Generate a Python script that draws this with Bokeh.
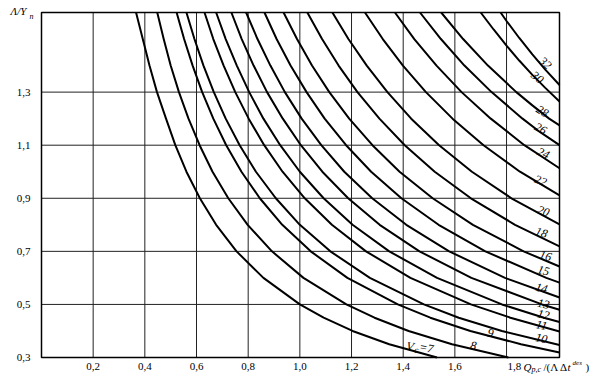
from bokeh.plotting import figure
from bokeh.models import Range1d, Label
from bokeh.embed import file_html
from bokeh.resources import INLINE
import math

# ---- data (points along each curve) ----
vc_values = [7, 8, 9, 10, 11, 12, 13, 14, 15, 16, 18, 20, 22, 24, 26, 28, 30, 32]

c7_x = [0.366, 0.392, 0.418, 0.447, 0.482, 0.518, 0.561, 0.613, 0.676, 0.755, 0.859, 1.000, 1.092, 1.204, 1.346, 1.531]
c7_y = [1.60, 1.50, 1.40, 1.30, 1.20, 1.10, 1.00, 0.90, 0.80, 0.70, 0.60, 0.50, 0.45, 0.40, 0.35, 0.30]
c8_x = [0.448, 0.473, 0.500, 0.532, 0.569, 0.612, 0.662, 0.723, 0.798, 0.892, 1.014, 1.180, 1.289, 1.421, 1.589, 1.807]
c8_y = [1.60, 1.50, 1.40, 1.30, 1.20, 1.10, 1.00, 0.90, 0.80, 0.70, 0.60, 0.50, 0.45, 0.40, 0.35, 0.30]
c9_x = [0.523, 0.552, 0.585, 0.622, 0.665, 0.715, 0.774, 0.845, 0.932, 1.042, 1.184, 1.379, 1.505, 1.660, 1.856, 2.005]
c9_y = [1.60, 1.50, 1.40, 1.30, 1.20, 1.10, 1.00, 0.90, 0.80, 0.70, 0.60, 0.50, 0.45, 0.40, 0.35, 0.319]
c10_x = [0.561, 0.592, 0.627, 0.667, 0.713, 0.767, 0.830, 0.907, 1.000, 1.118, 1.271, 1.480, 1.615, 1.782, 2.005]
c10_y = [1.60, 1.50, 1.40, 1.30, 1.20, 1.10, 1.00, 0.90, 0.80, 0.70, 0.60, 0.50, 0.45, 0.40, 0.347]
c11_x = [0.631, 0.665, 0.705, 0.750, 0.802, 0.862, 0.933, 1.019, 1.124, 1.256, 1.428, 1.662, 1.815, 2.005]
c11_y = [1.60, 1.50, 1.40, 1.30, 1.20, 1.10, 1.00, 0.90, 0.80, 0.70, 0.60, 0.50, 0.45, 0.398]
c12_x = [0.676, 0.713, 0.756, 0.804, 0.859, 0.924, 1.000, 1.092, 1.204, 1.346, 1.531, 1.782, 1.945, 2.005]
c12_y = [1.60, 1.50, 1.40, 1.30, 1.20, 1.10, 1.00, 0.90, 0.80, 0.70, 0.60, 0.50, 0.45, 0.434]
c13_x = [0.735, 0.775, 0.821, 0.873, 0.934, 1.004, 1.087, 1.187, 1.309, 1.463, 1.664, 1.937, 2.005]
c13_y = [1.60, 1.50, 1.40, 1.30, 1.20, 1.10, 1.00, 0.90, 0.80, 0.70, 0.60, 0.50, 0.480]
c14_x = [0.792, 0.836, 0.886, 0.942, 1.007, 1.083, 1.172, 1.280, 1.412, 1.578, 1.794, 2.005]
c14_y = [1.60, 1.50, 1.40, 1.30, 1.20, 1.10, 1.00, 0.90, 0.80, 0.70, 0.60, 0.526]
c15_x = [0.863, 0.910, 0.964, 1.026, 1.096, 1.179, 1.276, 1.393, 1.537, 1.718, 1.954, 2.005]
c15_y = [1.60, 1.50, 1.40, 1.30, 1.20, 1.10, 1.00, 0.90, 0.80, 0.70, 0.60, 0.582]
c16_x = [0.937, 0.989, 1.047, 1.114, 1.191, 1.281, 1.386, 1.514, 1.670, 1.866, 2.005]
c16_y = [1.60, 1.50, 1.40, 1.30, 1.20, 1.10, 1.00, 0.90, 0.80, 0.70, 0.643]
c18_x = [1.029, 1.086, 1.150, 1.223, 1.308, 1.406, 1.522, 1.662, 1.833, 2.005]
c18_y = [1.60, 1.50, 1.40, 1.30, 1.20, 1.10, 1.00, 0.90, 0.80, 0.719]
c20_x = [1.126, 1.188, 1.259, 1.339, 1.431, 1.539, 1.666, 1.819, 2.005]
c20_y = [1.60, 1.50, 1.40, 1.30, 1.20, 1.10, 1.00, 0.90, 0.802]
c22_x = [1.252, 1.321, 1.399, 1.488, 1.591, 1.711, 1.852, 2.005]
c22_y = [1.60, 1.50, 1.40, 1.30, 1.20, 1.10, 1.00, 0.911]
c24_x = [1.368, 1.443, 1.529, 1.626, 1.739, 1.869, 2.005]
c24_y = [1.60, 1.50, 1.40, 1.30, 1.20, 1.10, 1.013]
c26_x = [1.465, 1.546, 1.637, 1.742, 1.862, 1.929, 2.005]
c26_y = [1.60, 1.50, 1.40, 1.30, 1.20, 1.15, 1.100]
c28_x = [1.547, 1.632, 1.728, 1.838, 1.900, 1.965, 2.005]
c28_y = [1.60, 1.50, 1.40, 1.30, 1.25, 1.20, 1.175]
c30_x = [1.700, 1.750, 1.800, 1.850, 1.900, 1.950, 2.005]
c30_y = [1.60, 1.536, 1.475, 1.418, 1.365, 1.316, 1.265]
c32_x = [1.777, 1.800, 1.850, 1.900, 1.950, 2.005]
c32_y = [1.60, 1.568, 1.503, 1.442, 1.385, 1.327]

curves_x = [c7_x, c8_x, c9_x, c10_x, c11_x, c12_x, c13_x, c14_x, c15_x,
            c16_x, c18_x, c20_x, c22_x, c24_x, c26_x, c28_x, c30_x, c32_x]
curves_y = [c7_y, c8_y, c9_y, c10_y, c11_y, c12_y, c13_y, c14_y, c15_y,
            c16_y, c18_y, c20_y, c22_y, c24_y, c26_y, c28_y, c30_y, c32_y]

# curve label positions (data) and tilt (deg)
lab_x = [1.467, 1.672, 1.738, 1.935, 1.935, 1.943, 1.943, 1.935, 1.943,
         1.951, 1.935, 1.943, 1.932, 1.943, 1.932, 1.939, 1.920, 1.951]
lab_y = [0.345, 0.345, 0.392, 0.372, 0.422, 0.462, 0.502, 0.562, 0.628,
         0.684, 0.771, 0.852, 0.967, 1.070, 1.163, 1.228, 1.356, 1.410]
lab_ang = [-10, -10, -12, -12, -12, -12, -12, -14, -14,
           -16, -18, -20, -22, -25, -28, -32, -38, -42]

x_ticks = [0.2, 0.4, 0.6, 0.8, 1.0, 1.2, 1.4, 1.6]
x_tick_labels = ["0,2", "0,4", "0,6", "0,8", "1,0", "1,2", "1,4", "1,6"]
x_grid = [0.2, 0.4, 0.6, 0.8, 1.0, 1.2, 1.4, 1.6, 1.8]
y_ticks = [0.3, 0.5, 0.7, 0.9, 1.1, 1.3]
y_tick_labels = ["0,3", "0,5", "0,7", "0,9", "1,1", "1,3"]
y_grid = [0.5, 0.7, 0.9, 1.1, 1.3]

X0, X1, Y0, Y1 = 0.0, 2.005, 0.3, 1.6
FONT = "Liberation Serif"
SX = 258.35   # px per x unit
SY = 265.4    # px per y unit

p = figure(width=598, height=378,
           x_range=Range1d(X0 - 41 / SX, X1 + 39 / SX),
           y_range=Range1d(Y0 - 21 / SY, Y1 + 12 / SY),
           x_axis_type=None, y_axis_type=None, output_backend="svg",
           toolbar_location=None, min_border=0)
p.outline_line_color = None
p.background_fill_color = "white"
p.border_fill_color = "white"

# grid lines
p.segment(x0=x_grid, y0=[Y0] * len(x_grid), x1=x_grid, y1=[Y1] * len(x_grid),
          line_color="#222222", line_width=1)
p.segment(x0=[X0] * len(y_grid), y0=y_grid, x1=[X1] * len(y_grid), y1=y_grid,
          line_color="#222222", line_width=1)
# frame
p.quad(left=[X0], right=[X1], bottom=[Y0], top=[Y1], fill_color=None,
       line_color="black", line_width=1.5)

for cx, cy in zip(curves_x, curves_y):
    p.line(cx, cy, line_color="black", line_width=2, line_join="round")

def lab(x, y, text, size="12px", style="italic", align="center", angle=0.0,
        baseline="middle"):
    p.add_layout(Label(x=x, y=y, text=text, text_font=FONT, text_font_style=style,
                       text_font_size=size, text_align=align, text_baseline=baseline,
                       text_color="black", angle=math.radians(angle)))

for v, lx, ly, la in zip(vc_values, lab_x, lab_y, lab_ang):
    if v == 7:
        lab(lx - 14 / SX, ly, "V", align="left", angle=la)
        lab(lx - 6 / SX, ly - 4 / SY, "c", size="9px", align="left", angle=la)
        lab(lx - 1 / SX, ly - 1 / SY, "=7", align="left", angle=la)
    else:
        lab(lx, ly, str(v), angle=la)

ylab = Y0 - 9 / SY
for t, s in zip(x_ticks, x_tick_labels):
    lab(t, ylab, s, size="11px", style="normal")
lab(1.8 + 1 / SX, ylab, "1,8", size="11px", style="normal", align="left")
lab(1.8 + 17 / SX, ylab, "Q", size="11px", align="left")
lab(1.8 + 25 / SX, ylab - 3 / SY, "p,c", size="8px", align="left")
lab(1.8 + 37 / SX, ylab, "/(Λ Δ", size="11px", style="normal", align="left")
lab(1.8 + 61 / SX, ylab, "t", size="11px", align="left")
lab(1.8 + 66 / SX, ylab + 4 / SY, "des", size="7px", align="left")
lab(1.8 + 79 / SX, ylab, ")", size="11px", style="normal", align="left")

for t, s in zip(y_ticks, y_tick_labels):
    lab(X0 - 11 / SX, t, s, size="11px", style="normal", align="right")
lab(X0 - 31 / SX, Y1 + 1 / SY, "Λ/Y", size="11px", align="left")
lab(X0 - 12 / SX, Y1 - 4 / SY, "n", size="8px", align="left")

open("out.html", "w").write(file_html(p, INLINE))
